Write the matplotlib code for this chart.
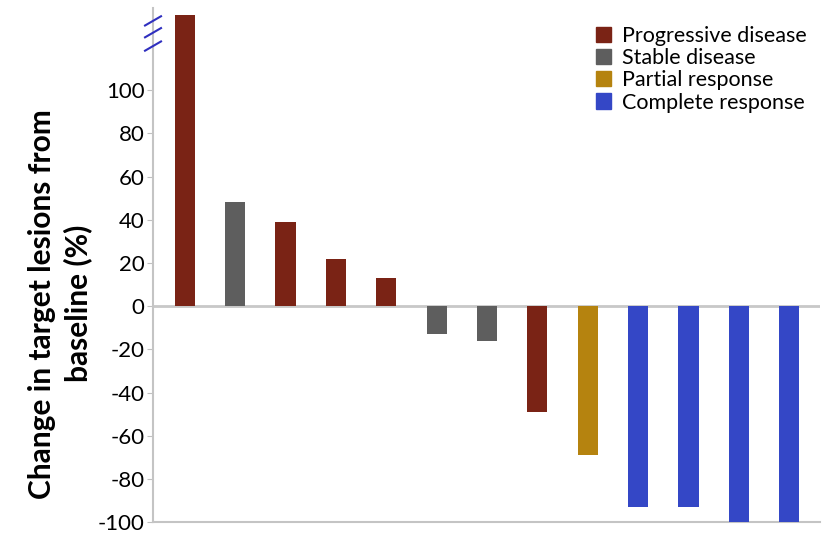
import matplotlib.pyplot as plt

plt.rcParams['font.family'] = ['Lato', 'DejaVu Sans']

# change in target lesions per patient, sorted
values = [135, 48, 39, 22, 13, -13, -16, -49, -69, -93, -93, -100, -100]
response = ["PD", "SD", "PD", "PD", "PD", "SD", "SD", "PD", "PR", "CR", "CR", "CR", "CR"]
legend_labels = ["Progressive disease", "Stable disease", "Partial response", "Complete response"]
yticks = [-100, -80, -60, -40, -20, 0, 20, 40, 60, 80, 100]

colors = {"PD": "#7a2315", "SD": "#5e5e5e", "PR": "#b5830f", "CR": "#3447c6"}
order = ["PD", "SD", "PR", "CR"]

fig = plt.figure(figsize=(8.28, 5.35), dpi=100)
ax = fig.add_axes([0.1848, 0.024, 0.805, 0.961])

x = list(range(len(values)))
ax.bar(x, values, width=0.4, color=[colors[r] for r in response], zorder=3)
ax.axhline(0, color="#c8c8c8", lw=2, zorder=2)

ax.set_xlim(-0.63, 12.6)
ax.set_ylim(-100, 138)
ax.set_yticks(yticks)
ax.set_yticklabels([str(t) for t in yticks], fontsize=16)
ax.set_xticks([])
ax.tick_params(axis="y", length=4, color="#c0c0c0", pad=2)

for s in ["top", "right"]:
    ax.spines[s].set_visible(False)
for s in ["left", "bottom"]:
    ax.spines[s].set_color("#c4c4c4")
    ax.spines[s].set_linewidth(1.5)

ax.set_ylabel("Change in target lesions from\nbaseline (%)", fontsize=21.5,
              fontweight="bold", linespacing=1.3, va="center")
ax.yaxis.set_label_coords(-0.139, 0.425)

# break marks on the y axis
for yb in [0.975, 0.952, 0.926]:
    ax.plot([-0.012, 0.012], [yb - 0.009, yb + 0.009], transform=ax.transAxes,
            color="#2f2fbf", lw=1.5, clip_on=False, zorder=4)

handles = [plt.Rectangle((0, 0), 1, 1, color=colors[k]) for k in order]
ax.legend(handles, legend_labels, loc="upper right", bbox_to_anchor=(1.0, 0.99),
          frameon=False, fontsize=15.5, handlelength=0.7, handleheight=0.7,
          handletextpad=0.5, labelspacing=0.1, borderaxespad=0.2)

fig.savefig("out.png", dpi=100)
